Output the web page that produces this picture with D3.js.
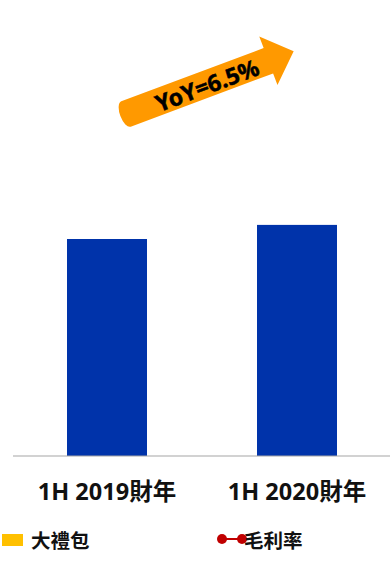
<!DOCTYPE html>
<html>
<head>
<meta charset="utf-8">
<script src="https://cdn.jsdelivr.net/npm/d3@7"></script>
<style>
  body { margin: 0; background: #fff; }
  svg { display: block; font-family: "Noto Sans", "Noto Sans CJK TC", sans-serif; }
</style>
</head>
<body>
<div id="chart"></div>
<script>
// data
const periods = ["1H 2019財年", "1H 2020財年"];
const revenue = [100, 106.5];
const legendItems = ["大禮包", "毛利率"];

const width = 390, height = 562;
const margin = { top: 22, right: -2, bottom: 106, left: 12 };
const baseY = height - margin.bottom;

const svg = d3.select("#chart").append("svg")
    .attr("width", width)
    .attr("height", height);

const x = d3.scaleBand()
    .domain(periods)
    .range([margin.left, width - margin.right])
    .paddingInner(0.579)
    .paddingOuter(0.2895);

const y = d3.scaleLinear()
    .domain([0, 200])
    .range([baseY, margin.top]);

// bars
svg.selectAll(".bar")
    .data(periods)
    .join("rect")
    .attr("class", "bar")
    .attr("x", d => x(d))
    .attr("width", x.bandwidth())
    .attr("y", (d, i) => y(revenue[i]))
    .attr("height", (d, i) => baseY - y(revenue[i]))
    .attr("fill", "#0033AA");

// x axis
const xAxis = svg.append("g")
    .attr("transform", `translate(0,${baseY})`)
    .call(d3.axisBottom(x).tickSize(0).tickPadding(27));
xAxis.select(".domain").attr("stroke", "#a6a6a6").attr("stroke-width", 1.2)
    .attr("d", `M13,0H${width}`);
xAxis.selectAll("text")
    .attr("font-family", "'Noto Sans', 'Noto Sans CJK TC', sans-serif")
    .attr("font-size", 23.5)
    .attr("font-weight", "bold")
    .attr("fill", "#111");

// YoY arrow
const yoy = (revenue[1] / revenue[0] - 1) * 100;
const ang = -20.5, L = 179, hb = 152, sw = 13.5, hw = 26;
const arrow = svg.append("g")
    .attr("transform", `translate(126,114) rotate(${ang})`);
arrow.append("path")
    .attr("d", `M0,${-sw} L${hb},${-sw} L${hb},${-hw} L${L},0 L${hb},${hw} L${hb},${sw} L0,${sw} A6,${sw} 0 0 1 0,${-sw} Z`)
    .attr("fill", "#FF9900");
arrow.append("text")
    .attr("x", 86)
    .attr("y", 1)
    .attr("text-anchor", "middle")
    .attr("dominant-baseline", "central")
    .attr("font-size", 23)
    .attr("font-weight", "bold")
    .attr("fill", "#000")
    .attr("stroke", "#000")
    .attr("stroke-width", 0.5)
    .text(`YoY=${yoy.toFixed(1)}%`);

// legend
const lg = svg.append("g");
lg.append("rect")
    .attr("x", 2).attr("y", 534)
    .attr("width", 21).attr("height", 12)
    .attr("fill", "#FFC000");
lg.append("text")
    .attr("x", 31).attr("y", 548)
    .attr("font-family", "'Noto Sans CJK TC', sans-serif")
    .attr("font-size", 19.5)
    .attr("font-weight", "bold")
    .attr("fill", "#111")
    .text(legendItems[0]);

lg.append("line")
    .attr("x1", 222).attr("x2", 242)
    .attr("y1", 539).attr("y2", 539)
    .attr("stroke", "#C00000").attr("stroke-width", 2);
lg.selectAll(".ldot")
    .data([222, 242])
    .join("circle")
    .attr("class", "ldot")
    .attr("cx", d => d).attr("cy", 539).attr("r", 5)
    .attr("fill", "#C00000");
lg.append("text")
    .attr("x", 244).attr("y", 548)
    .attr("font-family", "'Noto Sans CJK TC', sans-serif")
    .attr("font-size", 19.5)
    .attr("font-weight", "bold")
    .attr("fill", "#111")
    .text(legendItems[1]);
</script>
</body>
</html>
